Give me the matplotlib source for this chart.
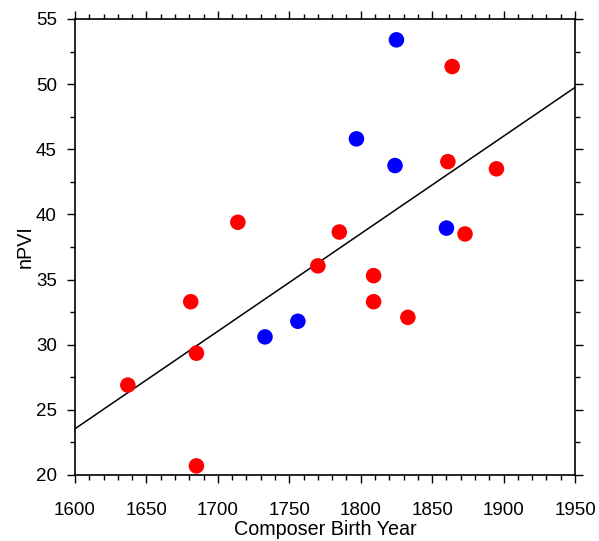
import matplotlib
matplotlib.use("Agg")
import matplotlib.pyplot as plt
from matplotlib.ticker import MultipleLocator

plt.rcParams['font.family'] = ['Liberation Sans', 'DejaVu Sans']

red_x = [1637, 1681, 1685, 1685, 1714, 1770, 1785, 1809, 1809, 1833, 1864, 1861, 1873, 1895]
red_y = [26.9, 33.3, 29.35, 20.7, 39.4, 36.05, 38.65, 35.3, 33.3, 32.1, 51.35, 44.05, 38.5, 43.5]
blue_x = [1733, 1756, 1797, 1825, 1824, 1860]
blue_y = [30.6, 31.8, 45.8, 53.4, 43.75, 38.95]
fit_x = [1600, 1950]
fit_y = [23.55, 49.75]

fig = plt.figure(figsize=(5.99, 5.41), dpi=100)
ax = fig.add_axes([0.1252, 0.122, 0.8348, 0.8429])

ax.plot(fit_x, fit_y, color='black', lw=1.1, zorder=2)
ax.scatter(red_x, red_y, s=125, color='#ff0000', edgecolors='none', zorder=3)
ax.scatter(blue_x, blue_y, s=125, color='#0000ff', edgecolors='none', zorder=3)

ax.set_xlim(1600, 1950)
ax.set_ylim(20, 55)
ax.xaxis.set_major_locator(MultipleLocator(50))
ax.xaxis.set_minor_locator(MultipleLocator(10))
ax.yaxis.set_major_locator(MultipleLocator(5))
ax.yaxis.set_minor_locator(MultipleLocator(2.5))
ax.tick_params(which='both', direction='out', top=True, right=True,
               labeltop=False, labelright=False, width=1.0, labelsize=13.5)
ax.tick_params(which='major', length=6)
ax.tick_params(which='minor', length=3.5)
ax.tick_params(axis='x', which='major', pad=13.5)
ax.tick_params(axis='y', which='major', pad=7)
for s in ax.spines.values():
    s.set_linewidth(1.2)

ax.set_xlabel('Composer Birth Year', fontsize=14.2, labelpad=1)
ax.set_ylabel('nPVI', fontsize=14.2, labelpad=1)

fig.savefig('out.png', dpi=100)
